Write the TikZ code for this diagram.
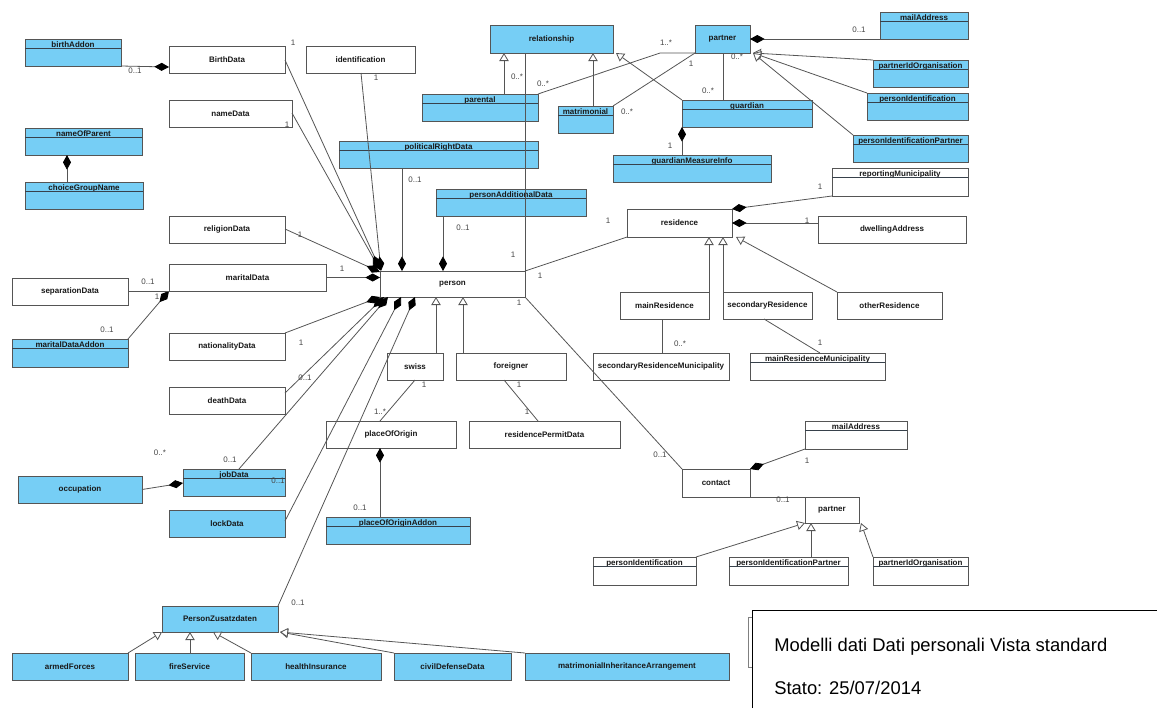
\documentclass[tikz,border=0pt]{standalone}
\usepackage{fontspec}
\setmainfont{Liberation Sans}
\usetikzlibrary{arrows.meta,calc}
\definecolor{ublue}{RGB}{118,206,245}
\definecolor{uline}{RGB}{85,85,85}
\definecolor{udiv}{RGB}{55,65,75}
\definecolor{mcol}{RGB}{70,70,70}
\newcommand\clsbox[7]{%
  \pgfmathsetmacro\mybw{(#4-#2)*0.75}%
  \pgfmathsetmacro\mybh{(#5-#3)*0.75}%
  \node[#6, anchor=north west, minimum width=\mybw pt, minimum height=\mybh pt] (#1) at (#2,#3) {#7};}
\newcommand\hdrbox[7]{%
  \pgfmathsetmacro\mybw{(#4-#2)*0.75}%
  \pgfmathsetmacro\mybh{(#5-#3)*0.75}%
  \pgfmathsetmacro\mybd{(#5-#3-8)*0.75}%
  \node[#6, anchor=north west, minimum width=\mybw pt, minimum height=\mybh pt, text height=6pt, text depth=\mybd pt] (#1) at (#2,#3) {#7};
  \draw[udiv, line width=0.7pt] ($(#1.north west)+(0,9.5)$) -- ($(#1.north east)+(0,9.5)$);}
\newcommand\mlab[4]{\node[mult] (#1) at (#2,#3) {#4};}
\tikzset{
  base/.style={draw=uline, line width=0.7pt, inner sep=0pt, outer sep=0pt, font=\bfseries\fontsize{6}{7}\selectfont, text=black!90},
  wbox/.style={base, fill=white},
  bbox/.style={base, fill=ublue},
  conn/.style={draw=uline, line width=0.6pt},
  comp/.style={conn, -{Diamond[length=11pt,width=6pt,color=black,fill=black]}},
  gen/.style={conn, -{Triangle[open,length=6pt,width=7pt,fill=white,color=uline]}},
  mult/.style={font=\fontsize{6}{7}\selectfont, text=mcol, inner sep=0pt},
  ttl/.style={anchor=west, inner sep=0pt, font=\fontsize{13.8}{16}\selectfont},
}
\begin{document}
\begin{tikzpicture}[x=0.75pt,y=-0.75pt]
\useasboundingbox (0,0) rectangle (1157,708);
% ---------- boxes ----------
\hdrbox{birthAddon}{25}{39}{121}{66}{bbox}{birthAddon}
\clsbox{BirthData}{169}{46}{285}{73}{wbox}{BirthData}
\clsbox{identification}{306}{46}{415}{73}{wbox}{identification}
\clsbox{nameData}{169}{100}{292}{127}{wbox}{nameData}
\hdrbox{nameOfParent}{25}{128}{142}{155}{bbox}{nameOfParent}
\hdrbox{choiceGroupName}{25}{182}{143}{209}{bbox}{choiceGroupName}
\clsbox{religionData}{169}{216}{285}{243}{wbox}{religionData}
\clsbox{maritalData}{169}{264}{326}{291}{wbox}{maritalData}
\clsbox{separationData}{12}{278}{128}{305}{wbox}{separationData}
\hdrbox{maritalDataAddon}{12}{339}{128}{367}{bbox}{maritalDataAddon}
\clsbox{nationalityData}{169}{333}{285}{360}{wbox}{nationalityData}
\clsbox{deathData}{169}{387}{285}{414}{wbox}{deathData}
\hdrbox{jobData}{183}{469}{285}{496}{bbox}{jobData}
\clsbox{occupation}{18}{476}{142}{503}{bbox}{occupation}
\clsbox{lockData}{169}{510}{285}{537}{bbox}{lockData}
\clsbox{PZ}{162}{606}{278}{632}{bbox}{PersonZusatzdaten}
\clsbox{armedForces}{12}{653}{128}{680}{bbox}{armedForces}
\clsbox{fireService}{135}{653}{244}{680}{bbox}{fireService}
\clsbox{healthInsurance}{251}{653}{381}{680}{bbox}{healthInsurance}
\clsbox{civilDefenseData}{394}{653}{511}{680}{bbox}{civilDefenseData}
\clsbox{mia}{525}{653}{729}{680}{bbox}{matrimonialInheritanceArrangement}
\clsbox{relationship}{490}{25}{613}{53}{bbox}{relationship}
\hdrbox{parental}{422}{94}{538}{121}{bbox}{parental}
\hdrbox{matrimonial}{558}{106}{613}{133}{bbox}{matrimonial}
\hdrbox{politicalRightData}{339}{141}{538}{168}{bbox}{politicalRightData}
\hdrbox{personAdditionalData}{436}{189}{586}{216}{bbox}{personAdditionalData}
\clsbox{partner}{695}{25}{750}{53}{bbox}{partner}
\hdrbox{guardian}{682}{100}{812}{127}{bbox}{guardian}
\hdrbox{guardianMeasureInfo}{613}{155}{771}{182}{bbox}{guardianMeasureInfo}
\hdrbox{mailAddress}{880}{12}{968}{39}{bbox}{mailAddress}
\hdrbox{partnerIdOrganisation}{873}{60}{968}{87}{bbox}{partnerIdOrganisation}
\hdrbox{personIdentification}{867}{93}{968}{120}{bbox}{personIdentification}
\hdrbox{personIdentificationPartner}{853}{135}{968}{162}{bbox}{personIdentificationPartner}
\hdrbox{reportingMunicipality}{832}{168}{968}{196}{wbox}{reportingMunicipality}
\clsbox{residence}{627}{209}{732}{237}{wbox}{residence}
\clsbox{dwellingAddress}{818}{216}{966}{243}{wbox}{dwellingAddress}
\clsbox{mainResidence}{620}{292}{709}{319}{wbox}{mainResidence}
\clsbox{secondaryResidence}{723}{292}{812}{319}{wbox}{secondaryResidence}
\clsbox{otherResidence}{837}{292}{942}{319}{wbox}{otherResidence}
\clsbox{srm}{593}{353}{729}{380}{wbox}{secondaryResidenceMunicipality}
\hdrbox{mrm}{750}{353}{885}{380}{wbox}{mainResidenceMunicipality}
\clsbox{person}{380}{271}{525}{297}{wbox}{person}
\clsbox{swiss}{387}{353}{443}{380}{wbox}{swiss}
\clsbox{foreigner}{456}{353}{566}{380}{wbox}{foreigner}
\clsbox{placeOfOrigin}{326}{421}{456}{448}{wbox}{placeOfOrigin}
\clsbox{residencePermitData}{469}{421}{620}{448}{wbox}{residencePermitData}
\hdrbox{placeOfOriginAddon}{326}{517}{470}{544}{bbox}{placeOfOriginAddon}
\clsbox{contact}{682}{469}{750}{497}{wbox}{contact}
\hdrbox{mailAddressB}{805}{421}{907}{449}{wbox}{mailAddress}
\clsbox{partnerB}{805}{497}{859}{523}{wbox}{partner}
\hdrbox{personIdentificationB}{593}{557}{696}{585}{wbox}{personIdentification}
\hdrbox{personIdentificationPartnerB}{729}{557}{848}{585}{wbox}{personIdentificationPartner}
\hdrbox{partnerIdOrganisationB}{873}{557}{968}{585}{wbox}{partnerIdOrganisation}
% ---------- compositions ----------
\draw[comp] (birthAddon.south east) -- ($(BirthData.south west)+(0,-6)$);
\draw[comp] ($(choiceGroupName.north west)+(42,0)$) -- ($(nameOfParent.south west)+(42,0)$);
\draw[comp] ($(BirthData.north east)+(0,14)$) -- ($(person.north west)+(0,-2)$);
\draw[comp] ($(nameData.north east)+(0,13)$) -- ($(person.north west)+(0,-1)$);
\draw[comp] ($(identification.south west)+(55,0)$) -- ($(person.north west)+(1,0)$);
\draw[comp] ($(religionData.north east)+(0,13)$) -- ($(person.north west)+(0,1)$);
\draw[comp] (maritalData.east) -- ($(person.north west)+(0,6.5)$);
\draw[comp] (nationalityData.north east) -- (person.south west);
\draw[comp] ($(deathData.north east)+(0,6)$) -- ($(person.south west)+(4,0)$);
\draw[comp] ($(jobData.north west)+(56,0)$) -- ($(person.south west)+(8,0)$);
\draw[comp] ($(lockData.north east)+(0,11)$) -- ($(person.south west)+(21,0)$);
\draw[comp] (PZ.north east) -- ($(person.south west)+(35,0)$);
\draw[comp] ($(politicalRightData.south west)+(63,0)$) -- ($(person.north west)+(22,0)$);
\draw[comp] ($(personAdditionalData.south west)+(7,0)$) -- ($(person.north west)+(63,0)$);
\draw[comp] ($(guardianMeasureInfo.north west)+(69,0)$) -- (guardian.south west);
\draw[comp] (mailAddress.south west) -- (partner.east);
\draw[comp] (reportingMunicipality.south west) -- (residence.north east);
\draw[comp] ($(dwellingAddress.north west)+(0,7)$) -- ($(residence.north east)+(0,14)$);
\draw[comp] ($(placeOfOriginAddon.north west)+(54,0)$) -- ($(placeOfOrigin.south west)+(54,0)$);
\draw[comp] (occupation.east) -- ($(jobData.north west)+(0,14)$);
\draw[comp] (maritalDataAddon.north east) -- (maritalData.south west);
\draw[comp] (mailAddressB.south west) -- (contact.north east);
% ---------- generalizations ----------
\draw[gen] ($(swiss.north west)+(49,0)$) -- ($(person.south west)+(56,0)$);
\draw[gen] ($(foreigner.north west)+(7,0)$) -- ($(person.south west)+(83,0)$);
\draw[gen] (armedForces.north east) -- (PZ.south west);
\draw[gen] ($(fireService.north west)+(55,0)$) -- ($(PZ.south west)+(28,0)$);
\draw[gen] (healthInsurance.north west) -- ($(PZ.south west)+(51,0)$);
\draw[gen] (civilDefenseData.north west) -- ($(PZ.south east)+(2,0)$);
\draw[gen] (mia.north west) -- ($(PZ.south east)+(2,0)$);
\draw[gen] ($(parental.north west)+(82,0)$) -- ($(relationship.south west)+(14,0)$);
\draw[gen] ($(matrimonial.north west)+(35,0)$) -- ($(relationship.south west)+(103,0)$);
\draw[gen] (guardian.north west) -- ($(relationship.south east)+(3,0)$);
\draw[gen] (partnerIdOrganisation.north west) -- ($(partner.south east)+(3,0)$);
\draw[gen] (personIdentification.north west) -- ($(partner.south east)+(3,0)$);
\draw[gen] (personIdentificationPartner.north west) -- ($(partner.south east)+(3,0)$);
\draw[gen] (mainResidence.north east) -- ($(residence.south west)+(82,0)$);
\draw[gen] (secondaryResidence.north west) -- ($(residence.south west)+(96,0)$);
\draw[gen] (otherResidence.north west) -- ($(residence.south east)+(4,0)$);
\draw[gen] (personIdentificationB.north east) -- (partnerB.south west);
\draw[gen] ($(personIdentificationPartnerB.north west)+(82,0)$) -- ($(partnerB.south west)+(6,0)$);
\draw[gen] (partnerIdOrganisationB.north west) -- ($(partnerB.south east)+(2,0)$);
% ---------- associations ----------
\coordinate (pbend) at (660,53);
\draw[conn] ($(relationship.south west)+(35,0)$) -- (person.north east);
\draw[conn] (residence.south west) -- (person.north east);
\draw[conn] (person.south east) -- (contact.north west);
\draw[conn] ($(separationData.north east)+(0,13)$) -- (maritalData.south west);
\draw[conn] (parental.north east) -- (pbend) -- (partner.south west);
\draw[conn] (matrimonial.north east) -- (partner.south west);
\draw[conn] ($(partner.south west)+(28,0)$) -- ($(guardian.north west)+(41,0)$);
\draw[conn] ($(swiss.south west)+(28,0)$) -- ($(placeOfOrigin.north west)+(54,0)$);
\draw[conn] ($(foreigner.south west)+(48,0)$) -- ($(residencePermitData.north west)+(69,0)$);
\draw[conn] ($(mainResidence.south west)+(42,0)$) -- ($(srm.north west)+(69,0)$);
\draw[conn] ($(secondaryResidence.south west)+(41,0)$) -- ($(mrm.north west)+(70,0)$);
\draw[conn] (contact.south east) -- (partnerB.north west);
% ---------- multiplicities ----------
\mlab{m1}{293}{43}{1}
\mlab{m2}{135}{71}{0..1}
\mlab{m3}{287}{125}{1}
\mlab{m4}{376}{78}{1}
\mlab{m5}{517}{77}{0..*}
\mlab{m6}{543}{84}{0..*}
\mlab{m7}{666}{43}{1..*}
\mlab{m8}{691}{64}{1}
\mlab{m9}{737}{57}{0..*}
\mlab{m10}{708}{91}{0..*}
\mlab{m11}{627}{112}{0..*}
\mlab{m12}{670}{146}{1}
\mlab{m13}{859}{30}{0..1}
\mlab{m14}{820}{187}{1}
\mlab{m15}{807}{221}{1}
\mlab{m16}{608}{221}{1}
\mlab{m17}{513}{255}{1}
\mlab{m18}{540}{276}{1}
\mlab{m19}{415}{180}{0..1}
\mlab{m20}{463}{228}{0..1}
\mlab{m21}{300}{235}{1}
\mlab{m22}{342}{269}{1}
\mlab{m23}{148}{282}{0..1}
\mlab{m24}{157}{297}{1}
\mlab{m25}{107}{330}{0..1}
\mlab{m26}{301}{343}{1}
\mlab{m27}{305}{378}{0..1}
\mlab{m28}{160}{453}{0..*}
\mlab{m29}{230}{460}{0..1}
\mlab{m30}{278}{481}{0..1}
\mlab{m31}{298}{603}{0..1}
\mlab{m32}{519}{303}{1}
\mlab{m33}{424}{385}{1}
\mlab{m34}{380}{412}{1..*}
\mlab{m35}{519}{385}{1}
\mlab{m36}{527}{412}{1}
\mlab{m37}{360}{508}{0..1}
\mlab{m38}{680}{344}{0..*}
\mlab{m39}{820}{343}{1}
\mlab{m40}{660}{455}{0..1}
\mlab{m41}{807}{461}{1}
\mlab{m42}{783}{500}{0..1}
% ---------- title block ----------
\draw[gray, line width=0.6pt] (760,617) -- (748,617) -- (748,667) -- (760,667);
\fill[white] (752,610) rectangle (1157,708);
\draw[black, line width=0.7pt] (752,708) -- (752,610) -- (1157,610);
\node[ttl] (t1) at (774,647) {Modelli dati Dati personali Vista standard};
\node[ttl] (t2) at (774,688) {Stato: 25/07/2014};
\end{tikzpicture}
\end{document}
